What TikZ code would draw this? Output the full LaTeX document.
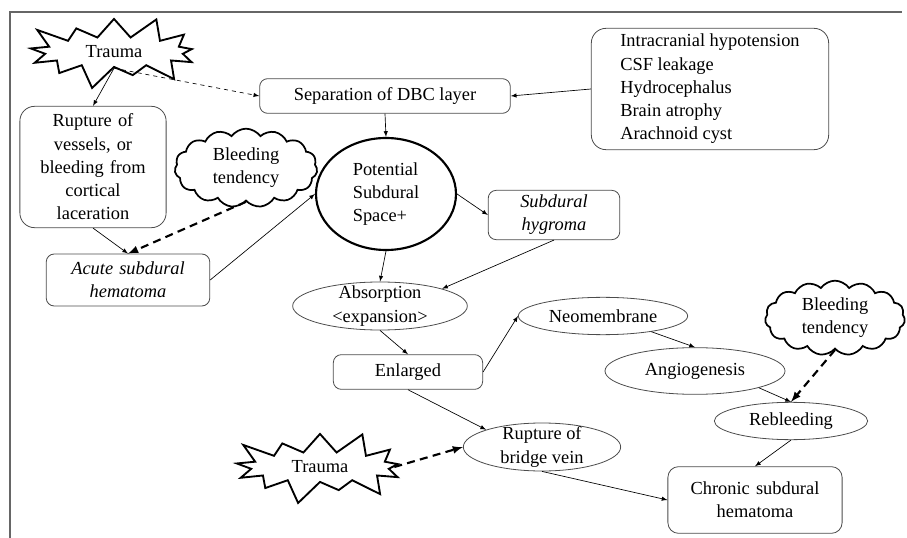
\documentclass[tikz,border=0pt]{standalone}
\usepackage{fontspec}
\setmainfont{Liberation Serif}
\usetikzlibrary{shapes.geometric,shapes.symbols}

\newcommand{\figfont}{\fontsize{13.8}{17.4}\selectfont}

\tikzset{
  boxnode/.style={draw=black!70, line width=0.6pt, rounded corners=6pt, align=center, font=\figfont},
  ovalnode/.style={draw=black!70, line width=0.6pt, ellipse, align=center, inner sep=0pt, font=\figfont},
  burstnode/.style={draw, starburst, line width=1.4pt, starburst points=13, starburst point height=19pt, font=\figfont},
  cloudnode/.style={draw, cloud, cloud puffs=15, cloud puff arc=110, aspect=2.1, inner sep=0pt, line width=1.3pt, align=center, font=\figfont},
  link/.style={->, line width=0.5pt},
  thicklink/.style={->, line width=1.6pt, dash pattern=on 6pt off 4pt},
}

\begin{document}
\begin{tikzpicture}[x=0.75pt, y=-0.75pt, >=latex]
  \useasboundingbox (0,0) rectangle (907,538);
  % frame
  \draw[black!60, line width=1pt] (10,538) -- (10,12) -- (902,12);

  \node[burstnode, minimum width=142pt, minimum height=44pt] (trauma1) at (114,52) {Trauma};
  \node[boxnode, rounded corners=11pt, text width=103pt, minimum height=91pt] (rupture) at (93,167) {Rupture of\\vessels, or\\bleeding from\\cortical\\laceration};
  \node[cloudnode, minimum width=107pt, minimum height=59pt] (bleed1) at (246,168) {Bleeding\\tendency};
  \node[boxnode, minimum width=188pt, minimum height=26pt] (separation) at (385,96) {Separation of DBC layer};
  \node[boxnode, rounded corners=11pt, align=left, minimum width=178pt, minimum height=91pt] (causes) at (710,89) {Intracranial hypotension\\CSF leakage\\Hydrocephalus\\Brain atrophy\\Arachnoid cyst};
  \node[ovalnode, line width=1.6pt, draw=black, align=left, minimum width=105pt, minimum height=84pt] (potential) at (386,194) {Potential\\Subdural\\Space+};
  \node[boxnode, font=\figfont\itshape, text width=92pt, minimum height=37pt] (hygroma) at (554,215) {Subdural\\hygroma};
  \node[boxnode, font=\figfont\itshape, text width=116pt, minimum height=39pt] (acute) at (128,280) {Acute subdural\\hematoma};
  \node[ovalnode, inner ysep=-5pt, minimum width=131pt, minimum height=36pt] (absorption) at (380,306) {Absorption\\<expansion>};
  \node[boxnode, minimum width=112pt, minimum height=26pt] (enlarged) at (408,372) {Enlarged};
  \node[ovalnode, minimum width=127pt, minimum height=28pt] (neomembrane) at (603,316) {Neomembrane};
  \node[cloudnode, minimum width=105pt, minimum height=56pt] (bleed2) at (835,318) {Bleeding\\tendency};
  \node[ovalnode, minimum width=135pt, minimum height=35pt] (angiogenesis) at (695,371) {Angiogenesis};
  \node[ovalnode, minimum width=115pt, minimum height=28pt] (rebleeding) at (791,421) {Rebleeding};
  \node[ovalnode, inner ysep=-5pt, minimum width=118pt, minimum height=36pt] (bridge) at (542,447) {Rupture of\\bridge vein};
  \node[boxnode, rounded corners=8pt, text width=124pt, minimum height=50pt] (chronic) at (755,500) {Chronic subdural\\hematoma};
  \node[burstnode, minimum width=142pt, minimum height=46pt] (trauma2) at (320,467) {Trauma};

  \draw[link] (trauma1.south) -- (rupture.north);
  \draw[link, dashed] (trauma1.south) -- (separation.west);
  \draw[link] (causes.west) -- (separation.east);
  \draw[link] (separation.south) -- (potential.north);
  \draw[link] (rupture.south) -- (acute.north);
  \draw[thicklink] (bleed1.south) -- (acute.north);
  \draw[link] (acute.east) -- (potential.west);
  \draw[link] (potential.east) -- (hygroma.west);
  \draw[link] (potential.south) -- (absorption.north);
  \draw[link] (hygroma.south) -- (absorption.north east);
  \draw[link] (absorption.south) -- (enlarged.north);
  \draw[link] (enlarged.east) -- (neomembrane.west);
  \draw[link] (neomembrane.-18) -- (angiogenesis.north);
  \draw[link] (angiogenesis.south east) -- (rebleeding.north);
  \draw[thicklink] (bleed2.south) -- (rebleeding.north);
  \draw[link] (rebleeding.south) -- (chronic.north);
  \draw[link] (enlarged.south) -- (bridge.north west);
  \draw[thicklink] (trauma2.east) -- (bridge.west);
  \draw[link] (bridge.south) -- (chronic.west);
\end{tikzpicture}
\end{document}
